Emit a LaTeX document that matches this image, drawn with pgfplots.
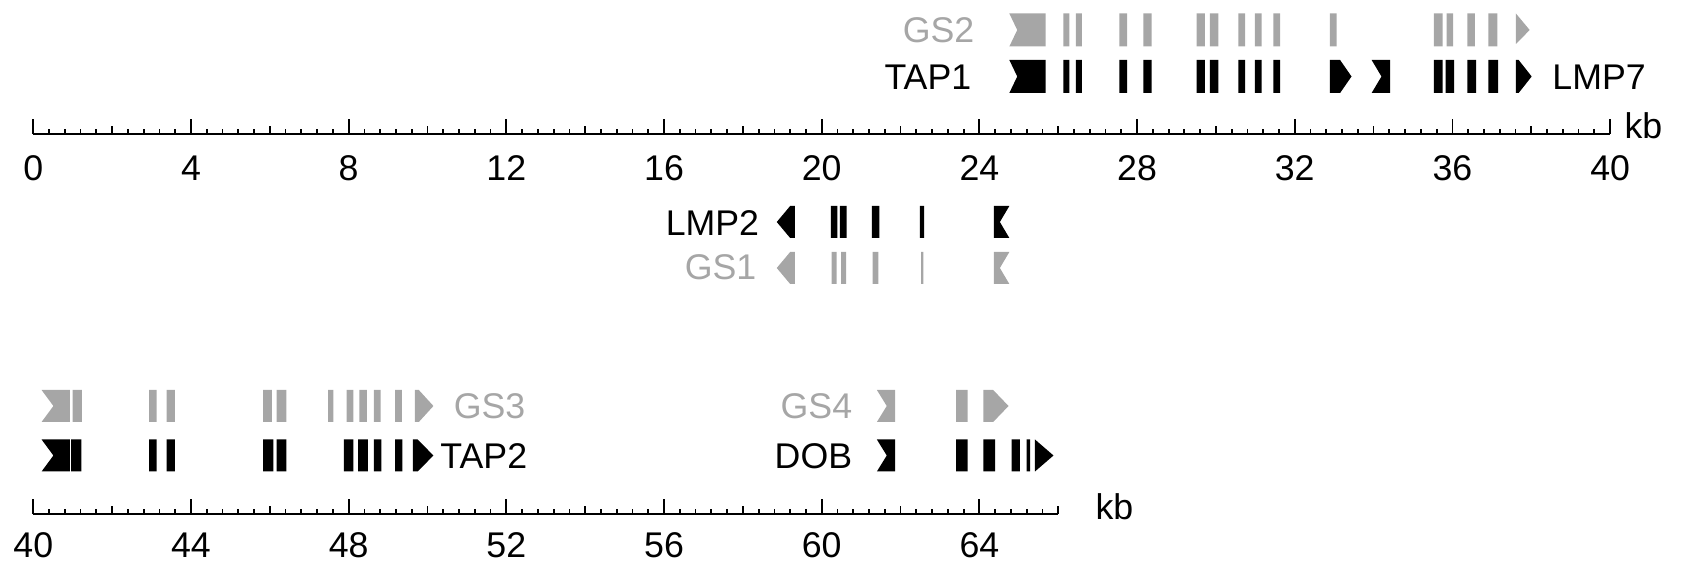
\documentclass[border=0pt]{standalone}
\usepackage{fontspec}
\setmainfont{Liberation Sans}
\usepackage{pgfplots}
\pgfplotsset{compat=1.18}
\definecolor{gs}{RGB}{166,166,166}
\pgfplotsset{genemap/.style={
  x=11.0376pt, y=0.28pt,
  ymin=0, ymax=125,
  axis x line=bottom, axis y line=none,
  axis line style={-, line width=0.8pt, black},
  clip=false, enlargelimits=false,
  tick align=inside,
  major tick length=4.1pt, minor tick length=1.3pt,
  tick style={black, line width=0.5pt},
  /pgf/number format/assume math mode=true,
  ticklabel style={font=\fontsize{10}{12}\selectfont},
  extra x tick labels={},
  extra x tick style={major tick length=2.3pt},
  unbounded coords=jump,
  anchor=south west,
}}
\begin{document}
\begin{tikzpicture}
\useasboundingbox (0,0) rectangle (471.24pt,157.64pt);
% ---------------- top map: 0-40 kb ----------------
\begin{axis}[genemap, at={(9.324pt,120.12pt)}, xmin=0, xmax=40,
  xticklabel style={anchor=base, yshift=-13.0pt, inner sep=0pt},
  xtick={0,4,...,40}, minor xtick={0,0.4,...,40}, extra x ticks={2,6,...,38}]
% TAP1 / LMP7 (black)
\addplot[fill=black, draw=none] coordinates {
(24.76,41)(25.68,41)(25.68,74)(24.76,74)(24.96,57.5) (nan,nan)
(26.13,41)(26.28,41)(26.28,74)(26.13,74) (nan,nan)
(26.45,41)(26.60,41)(26.60,74)(26.45,74) (nan,nan)
(27.55,41)(27.75,41)(27.75,74)(27.55,74) (nan,nan)
(28.16,41)(28.37,41)(28.37,74)(28.16,74) (nan,nan)
(29.51,41)(29.72,41)(29.72,74)(29.51,74) (nan,nan)
(29.85,41)(30.06,41)(30.06,74)(29.85,74) (nan,nan)
(30.57,41)(30.74,41)(30.74,74)(30.57,74) (nan,nan)
(30.99,41)(31.16,41)(31.16,74)(30.99,74) (nan,nan)
(31.46,41)(31.63,41)(31.63,74)(31.46,74) (nan,nan)
(32.89,41)(33.15,41)(33.44,57.5)(33.15,74)(32.89,74) (nan,nan)
(33.95,41)(34.42,41)(34.42,74)(33.95,74)(34.20,57.5) (nan,nan)
(35.53,41)(35.75,41)(35.75,74)(35.53,74) (nan,nan)
(35.83,41)(36.04,41)(36.04,74)(35.83,74) (nan,nan)
(36.38,41)(36.60,41)(36.60,74)(36.38,74) (nan,nan)
(36.91,41)(37.16,41)(37.16,74)(36.91,74) (nan,nan)
(37.61,41)(37.68,41)(38.01,57.5)(37.68,74)(37.61,74)
};
% GS2 (grey)
\addplot[fill=gs, draw=none] coordinates {
(24.76,87.5)(25.68,87.5)(25.68,120.5)(24.76,120.5)(24.96,104) (nan,nan)
(26.13,87.5)(26.28,87.5)(26.28,120.5)(26.13,120.5) (nan,nan)
(26.45,87.5)(26.60,87.5)(26.60,120.5)(26.45,120.5) (nan,nan)
(27.55,87.5)(27.75,87.5)(27.75,120.5)(27.55,120.5) (nan,nan)
(28.16,87.5)(28.37,87.5)(28.37,120.5)(28.16,120.5) (nan,nan)
(29.51,87.5)(29.72,87.5)(29.72,120.5)(29.51,120.5) (nan,nan)
(29.85,87.5)(30.06,87.5)(30.06,120.5)(29.85,120.5) (nan,nan)
(30.57,87.5)(30.74,87.5)(30.74,120.5)(30.57,120.5) (nan,nan)
(30.99,87.5)(31.16,87.5)(31.16,120.5)(30.99,120.5) (nan,nan)
(31.46,87.5)(31.63,87.5)(31.63,120.5)(31.46,120.5) (nan,nan)
(32.89,87.5)(33.06,87.5)(33.06,120.5)(32.89,120.5) (nan,nan)
(35.53,87.5)(35.75,87.5)(35.75,120.5)(35.53,120.5) (nan,nan)
(35.85,87.5)(36.02,87.5)(36.02,120.5)(35.85,120.5) (nan,nan)
(36.38,87.5)(36.57,87.5)(36.57,120.5)(36.38,120.5) (nan,nan)
(36.91,87.5)(37.14,87.5)(37.14,120.5)(36.91,120.5) (nan,nan)
(37.61,90)(37.96,104)(37.61,120.5)
};
% LMP2 (black)
\addplot[fill=black, draw=none] coordinates {
(19.32,-104)(19.32,-72)(19.20,-72)(18.86,-88)(19.20,-104) (nan,nan)
(20.23,-104)(20.40,-104)(20.40,-72)(20.23,-72) (nan,nan)
(20.46,-104)(20.63,-104)(20.63,-72)(20.46,-72) (nan,nan)
(21.27,-104)(21.46,-104)(21.46,-72)(21.27,-72) (nan,nan)
(22.49,-104)(22.60,-104)(22.60,-72)(22.49,-72) (nan,nan)
(24.37,-104)(24.76,-104)(24.52,-88)(24.76,-72)(24.37,-72)
};
% GS1 (grey)
\addplot[fill=gs, draw=none] coordinates {
(19.32,-150)(19.32,-118)(19.20,-118)(18.86,-134)(19.20,-150) (nan,nan)
(20.25,-150)(20.38,-150)(20.38,-118)(20.25,-118) (nan,nan)
(20.49,-150)(20.62,-150)(20.62,-118)(20.49,-118) (nan,nan)
(21.29,-150)(21.44,-150)(21.44,-118)(21.29,-118) (nan,nan)
(22.52,-150)(22.58,-150)(22.58,-118)(22.52,-118) (nan,nan)
(24.37,-150)(24.76,-150)(24.52,-134)(24.76,-118)(24.37,-118)
};
\node[anchor=base east, inner sep=0pt, text=gs] at (axis cs:23.89,91) {GS2};
\node[anchor=base east, inner sep=0pt] at (axis cs:23.81,44) {TAP1};
\node[anchor=base west, inner sep=0pt] at (axis cs:38.52,44) {LMP7};
\node[anchor=base east, inner sep=0pt] at (axis cs:18.43,-101.5) {LMP2};
\node[anchor=base east, inner sep=0pt, text=gs] at (axis cs:18.36,-146) {GS1};
\node[anchor=base west, inner sep=0pt] at (axis cs:40.35,-5) {kb};
\end{axis}
% ---------------- bottom map: 40-66 kb ----------------
\begin{axis}[genemap, at={(9.324pt,13.72pt)}, xmin=40, xmax=66,
  xticklabel style={anchor=base, yshift=-12.2pt, inner sep=0pt},
  xtick={40,44,...,64}, minor xtick={40,40.4,...,66}, extra x ticks={42,46,...,66}]
% TAP2 (black)
\addplot[fill=black, draw=none] coordinates {
(40.21,42.5)(40.93,42.5)(40.93,74.5)(40.21,74.5)(40.51,58.5) (nan,nan)
(40.96,42.5)(41.22,42.5)(41.22,74.5)(40.96,74.5) (nan,nan)
(42.94,42.5)(43.13,42.5)(43.13,74.5)(42.94,74.5) (nan,nan)
(43.38,42.5)(43.59,42.5)(43.59,74.5)(43.38,74.5) (nan,nan)
(45.83,42.5)(46.09,42.5)(46.09,74.5)(45.83,74.5) (nan,nan)
(46.17,42.5)(46.42,42.5)(46.42,74.5)(46.17,74.5) (nan,nan)
(47.88,42.5)(48.12,42.5)(48.12,74.5)(47.88,74.5) (nan,nan)
(48.24,42.5)(48.49,42.5)(48.49,74.5)(48.24,74.5) (nan,nan)
(48.64,42.5)(48.83,42.5)(48.83,74.5)(48.64,74.5) (nan,nan)
(49.18,42.5)(49.36,42.5)(49.36,74.5)(49.18,74.5) (nan,nan)
(49.63,42.5)(49.75,42.5)(50.15,58.5)(49.75,74.5)(49.63,74.5)
};
% GS3 (grey)
\addplot[fill=gs, draw=none] coordinates {
(40.21,92)(40.93,92)(40.93,124)(40.21,124)(40.51,108) (nan,nan)
(41.00,92)(41.23,92)(41.23,124)(41.00,124) (nan,nan)
(42.94,92)(43.13,92)(43.13,124)(42.94,124) (nan,nan)
(43.38,92)(43.59,92)(43.59,124)(43.38,124) (nan,nan)
(45.83,92)(46.05,92)(46.05,124)(45.83,124) (nan,nan)
(46.17,92)(46.42,92)(46.42,124)(46.17,124) (nan,nan)
(47.48,92)(47.61,92)(47.61,124)(47.48,124) (nan,nan)
(47.95,92)(48.12,92)(48.12,124)(47.95,124) (nan,nan)
(48.27,92)(48.46,92)(48.46,124)(48.27,124) (nan,nan)
(48.64,92)(48.81,92)(48.81,124)(48.64,124) (nan,nan)
(49.18,92)(49.35,92)(49.35,124)(49.18,124) (nan,nan)
(49.68,92)(49.78,92)(50.15,108)(49.78,124)(49.68,124)
};
% DOB (black)
\addplot[fill=black, draw=none] coordinates {
(61.40,42.5)(61.86,42.5)(61.86,74.5)(61.40,74.5)(61.65,58.5) (nan,nan)
(63.41,42.5)(63.70,42.5)(63.70,74.5)(63.41,74.5) (nan,nan)
(64.10,42.5)(64.40,42.5)(64.40,74.5)(64.10,74.5) (nan,nan)
(64.82,42.5)(65.03,42.5)(65.03,74.5)(64.82,74.5) (nan,nan)
(65.20,42.5)(65.29,42.5)(65.29,74.5)(65.20,74.5) (nan,nan)
(65.41,42.5)(65.88,58.5)(65.41,74.5)
};
% GS4 (grey)
\addplot[fill=gs, draw=none] coordinates {
(61.40,92)(61.86,92)(61.86,124)(61.40,124)(61.65,108) (nan,nan)
(63.41,92)(63.70,92)(63.70,124)(63.41,124) (nan,nan)
(64.10,92)(64.35,92)(64.74,108)(64.35,124)(64.10,124)
};
\node[anchor=base west, inner sep=0pt, text=gs] at (axis cs:50.65,95.5) {GS3};
\node[anchor=base west, inner sep=0pt] at (axis cs:50.31,45.6) {TAP2};
\node[anchor=base east, inner sep=0pt, text=gs] at (axis cs:60.79,95.5) {GS4};
\node[anchor=base east, inner sep=0pt] at (axis cs:60.79,45.6) {DOB};
\node[anchor=base west, inner sep=0pt] at (axis cs:66.93,-6) {kb};
\end{axis}
\end{tikzpicture}
\end{document}
